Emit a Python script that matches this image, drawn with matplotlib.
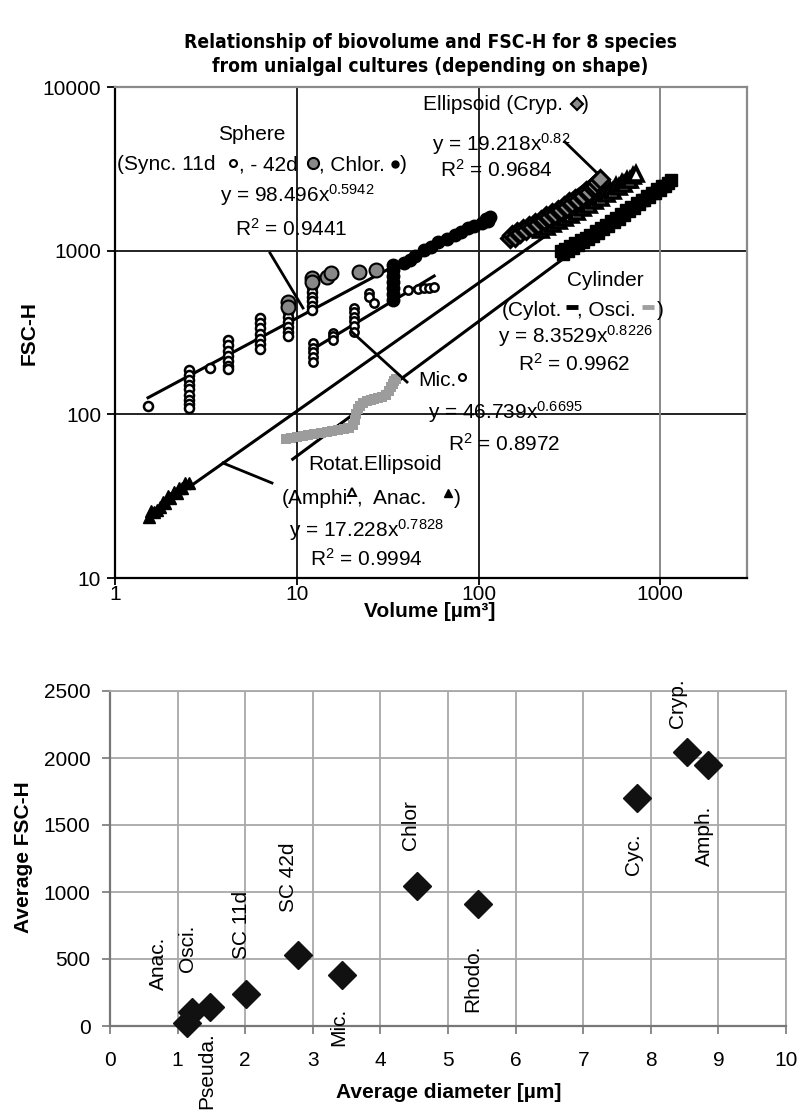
import matplotlib
matplotlib.use("Agg")
import matplotlib.pyplot as plt
from matplotlib import font_manager as fm
from matplotlib.font_manager import FontProperties
from matplotlib.lines import Line2D
from matplotlib.ticker import FixedLocator, FixedFormatter
import numpy as np

W, H = 799, 1110

# ---------------- upper panel: biovolume vs FSC-H ----------------
sync11d_vol = [1.52, 2.56, 2.56, 2.56, 2.56, 2.56, 2.56, 2.56, 2.56, 2.56, 3.35,
               4.21, 4.21, 4.21, 4.21, 4.21, 4.21, 4.21,
               6.25, 6.25, 6.25, 6.25, 6.25, 6.25, 6.25,
               8.9, 8.9, 8.9, 8.9, 8.9, 8.9,
               12.1, 12.1, 12.1, 12.1, 12.1, 12.1]
sync11d_fsc = [112, 187, 175, 163, 152, 142, 132, 123, 116, 110, 192,
               285, 265, 245, 228, 212, 198, 188,
               387, 360, 335, 310, 290, 270, 250,
               420, 392, 366, 342, 320, 300,
               600, 560, 522, 490, 460, 435]

sync42d_vol = [8.9, 8.9, 12.1, 12.1, 14.6, 15.4, 22.0, 27.3]
sync42d_fsc = [486, 455, 680, 640, 690, 730, 740, 760]

chlor_vol = [34, 34, 34, 34, 34, 34, 34, 39, 42, 45, 50, 55, 60, 67, 74, 80, 88,
             95, 104, 110, 115, 113]
chlor_fsc = [820, 760, 700, 645, 590, 540, 500, 840, 880, 930, 1010, 1060, 1130,
             1180, 1250, 1300, 1380, 1420, 1480, 1560, 1600, 1520]

mic_vol = [12.3, 12.3, 12.3, 12.3, 12.3, 15.8, 15.8, 15.8,
           20.6, 20.6, 20.6, 20.6, 20.6, 20.6, 25, 25, 26.6, 41, 46.5, 50, 53.6, 57]
mic_fsc = [273, 255, 240, 224, 209, 314, 300, 285,
           445, 420, 395, 370, 345, 320, 551, 520, 479, 574, 580, 590, 595, 600]

cryp_vol = [149, 152, 158, 163, 170, 176, 183, 190, 197, 204, 212, 220, 228, 236,
            245, 254, 263, 273, 283, 294, 305, 316, 328, 340, 352, 365, 378, 392,
            406, 420, 435, 450, 466]
cryp_fsc = [1189, 1250, 1220, 1300, 1290, 1350, 1330, 1420, 1400, 1480, 1460, 1550,
            1530, 1620, 1600, 1700, 1680, 1780, 1760, 1880, 1850, 1970, 1950, 2060,
            2040, 2170, 2150, 2300, 2280, 2440, 2500, 2620, 2760]

amphi_vol = [215, 222, 230, 238, 247, 256, 266, 276, 287, 298, 310, 322, 335, 348,
             362, 376, 391, 406, 422, 438, 455, 472, 490, 509, 528, 548, 569, 590,
             612, 635, 659, 684, 710, 731]
amphi_fsc = [1380, 1330, 1420, 1390, 1480, 1450, 1540, 1510, 1610, 1580, 1680, 1650,
             1760, 1730, 1850, 1820, 1940, 1910, 2030, 2010, 2130, 2110, 2240, 2220,
             2350, 2330, 2470, 2450, 2590, 2570, 2720, 2700, 2860, 2960]

anac_vol = [1.53, 1.58, 1.63, 1.70, 1.77, 1.83, 1.89, 1.95, 2.01, 2.10, 2.19, 2.26,
            2.33, 2.44, 2.54]
anac_fsc = [23.7, 25.5, 25.4, 26.0, 27.3, 29.0, 28.6, 31.5, 30.7, 33.5, 32.9, 35.5,
            35.3, 38.0, 37.9]

osci_vol = [8.7, 9.3, 10.0, 10.8, 11.6, 12.5, 13.6, 14.6, 15.7, 16.9, 18.2, 19.5,
            20.3, 20.8, 21.2, 21.6, 22.4, 23.2, 24.3, 25.5, 26.7, 28.0, 29.5, 31.0,
            32.0, 33.0, 33.7, 34.4, 35.2]
osci_fsc = [71, 72, 73, 74, 75, 76, 77, 78, 79, 80, 81, 83, 86, 92, 100, 108, 113,
            118, 120, 122, 124, 126, 128, 131, 138, 146, 153, 160, 164]

cylot_vol = [285, 292, 300, 310, 320, 330, 341, 352, 364, 376, 388, 400, 413, 427,
             441, 455, 470, 486, 502, 518, 535, 553, 571, 590, 610, 630, 651, 672,
             694, 717, 741, 765, 790, 816, 843, 871, 900, 930, 960, 992, 1025, 1060,
             1100, 1141]
cylot_fsc = [1000, 960, 1030, 1000, 1070, 1040, 1110, 1080, 1160, 1130, 1200, 1180,
             1250, 1230, 1310, 1290, 1370, 1350, 1440, 1420, 1510, 1490, 1590, 1570,
             1670, 1650, 1760, 1740, 1850, 1830, 1950, 1930, 2050, 2030, 2150, 2130,
             2260, 2240, 2370, 2350, 2480, 2470, 2590, 2698]

# power-law fits y = a * x^b and the volume range each one spans
fit_sphere = (98.496, 0.5942, 1.52, 115)
fit_ellipsoid = (19.218, 0.82, 149, 466)
fit_rotat = (17.228, 0.7828, 1.52, 731)
fit_cylinder = (8.3529, 0.8226, 9.5, 1141)
fit_mic = (46.739, 0.6695, 12.3, 57)

top_xticks = [1, 10, 100, 1000]
top_yticks = [10, 100, 1000, 10000]

# ---------------- lower panel: mean diameter vs mean FSC-H ----------------
species = ["Anac.", "Osci.", "Pseuda.", "SC 11d", "SC 42d", "Mic.", "Chlor",
           "Rhodo.", "Cyc.", "Cryp.", "Amph."]
diameter = [1.14, 1.22, 1.48, 2.01, 2.78, 3.43, 4.54, 5.45, 7.80, 8.53, 8.85]
avg_fsc = [25, 104, 140, 240, 530, 380, 1045, 910, 1700, 2045, 1950]
label_x = [0.71, 1.15, 1.43, 1.95, 2.64, 3.38, 4.45, 5.37, 7.74, 8.39, 8.79]
label_y = [470, 582, -330, 754, 1112, -10, 1500, 358, 1284, 2410, 1418]

# ---------------- fonts ----------------
names = {f.name for f in fm.fontManager.ttflist}
BASE = ["Liberation Sans", "DejaVu Sans"]
title_kw = dict(family=BASE, fontweight="bold", fontsize=14)
if "Liberation Sans Narrow" in names:
    title_kw = dict(family=["Liberation Sans Narrow"] + BASE, fontweight="bold",
                    fontsize=16)
else:
    try:
        cond = fm.findfont(FontProperties(family="DejaVu Sans", weight="bold",
                                          stretch="condensed"),
                           fallback_to_default=False)
        if "Condensed" in cond:
            title_kw = dict(fontproperties=FontProperties(fname=cond, size=13.8))
    except Exception:
        pass

plt.rcParams["font.family"] = BASE
plt.rcParams["mathtext.default"] = "regular"
FS = 15

fig = plt.figure(figsize=(W / 100, H / 100), dpi=100)


def fpos(x, y):
    return x / W, 1 - y / H


def ftext(x, y, s, ha="center", **kw):
    if "fontproperties" not in kw:
        kw.setdefault("fontsize", FS)
    fig.text(*fpos(x, y), s, ha=ha, va="center", **kw)


def fmark(x, y, **kw):
    fx, fy = fpos(x, y)
    fig.add_artist(Line2D([fx], [fy], transform=fig.transFigure, linestyle="none", **kw))


def fline(x0, y0, x1, y1, **kw):
    a, b = fpos(x0, y0)
    c, d = fpos(x1, y1)
    fig.add_artist(Line2D([a, c], [b, d], transform=fig.transFigure, color="black",
                          lw=2, **kw))


# title
ftext(430, 42, "Relationship of biovolume and FSC-H for 8 species", **title_kw)
ftext(430, 66, "from unialgal cultures (depending on shape)", **title_kw)

# ---------- top axes ----------
ax = fig.add_axes([115 / W, 1 - 578 / H, (747 - 115) / W, (578 - 87) / H])
ax.set_xscale("log")
ax.set_yscale("log")
ax.set_xlim(1, 3000)
ax.set_ylim(10, 10000)
ax.xaxis.set_major_locator(FixedLocator(top_xticks))
ax.xaxis.set_major_formatter(FixedFormatter([str(v) for v in top_xticks]))
ax.yaxis.set_major_locator(FixedLocator(top_yticks))
ax.yaxis.set_major_formatter(FixedFormatter([str(v) for v in top_yticks]))
ax.xaxis.set_minor_locator(FixedLocator([]))
ax.yaxis.set_minor_locator(FixedLocator([]))
ax.tick_params(labelsize=FS, width=1.3, direction="out")
ax.tick_params(axis="x", length=5, pad=0)
ax.tick_params(axis="y", length=6, pad=4)
for v in [100, 1000]:
    ax.axhline(v, color="#222222", lw=1.4, zorder=1)
for v in [10, 100]:
    ax.axvline(v, color="#222222", lw=1.4, zorder=1)
ax.axvline(1000, color="#888888", lw=1.4, zorder=1)
ax.spines["left"].set_linewidth(1.6)
ax.spines["bottom"].set_linewidth(1.6)
for s in ["top", "right"]:
    ax.spines[s].set_color("#8a8a8a")
    ax.spines[s].set_linewidth(1.6)

for a, b, lo, hi in [fit_sphere, fit_ellipsoid, fit_rotat, fit_cylinder, fit_mic]:
    xs = np.geomspace(lo, hi, 60)
    ax.plot(xs, a * xs ** b, color="black", lw=2.2, zorder=2)

ax.plot(osci_vol, osci_fsc, "s", ms=7, color="#9c9c9c", mew=0, zorder=3)
ax.plot(cylot_vol, cylot_fsc, "s", ms=8, color="black", zorder=3)
ax.plot(anac_vol, anac_fsc, "^", ms=9, color="black", zorder=3)
ax.plot(amphi_vol, amphi_fsc, "^", ms=10, mfc="white", mec="black", mew=2.6, zorder=3)
ax.plot(cryp_vol, cryp_fsc, "D", ms=9, mfc="#8c8c8c", mec="black", mew=2.2, zorder=3)
ax.plot(sync11d_vol, sync11d_fsc, "o", ms=6.5, mfc="white", mec="black", mew=1.8, zorder=3)
ax.plot(mic_vol, mic_fsc, "o", ms=6, mfc="white", mec="black", mew=1.8, zorder=3)
ax.plot(chlor_vol, chlor_fsc, "o", ms=9, color="black", zorder=3)
ax.plot(sync42d_vol, sync42d_fsc, "o", ms=10, mfc="#888888", mec="black", mew=1.5, zorder=4)

ax.set_xlabel("Volume [µm³]", fontsize=FS, fontweight="bold")
ax.set_ylabel("FSC-H", fontsize=FS, fontweight="bold")
ax.xaxis.set_label_coords((430 - 115) / 632, -(602 - 578) / 491)
ax.yaxis.set_label_coords(-(115 - 39) / 632, (578 - 333) / 491)

# annotations
ftext(252, 135, "Sphere")
ftext(117, 165, "(Sync. 11d", ha="left")
fmark(233, 163, marker="o", ms=5, mfc="white", mec="black", mew=1.5)
ftext(239, 165, ", - 42d", ha="left")
fmark(313, 163, marker="o", ms=8, mfc="#888888", mec="black", mew=1.5)
ftext(319, 165, ", Chlor.", ha="left")
fmark(395, 164, marker="o", ms=5, color="black")
ftext(400, 165, ")", ha="left")
ftext(297, 195, "y = 98.496x$^{0.5942}$")
ftext(291, 229, "R$^{2}$ = 0.9441")
fline(270, 253, 303, 308)

ftext(423, 105, "Ellipsoid (Cryp.", ha="left")
fmark(577, 104, marker="D", ms=6, mfc="#8c8c8c", mec="black", mew=1.5)
ftext(582, 105, ")", ha="left")
ftext(501, 144, "y = 19.218x$^{0.82}$")
ftext(496, 170, "R$^{2}$ = 0.9684")
fline(565, 142, 597, 173)

ftext(605, 280, "Cylinder")
ftext(502, 310, "(Cylot.", ha="left")
fmark(572, 307, marker="_", ms=8, mew=3.5, color="black")
ftext(577, 310, ", Osci.", ha="left")
fmark(648, 307, marker="_", ms=9, mew=3.5, color="#a0a0a0")
ftext(657, 310, ")", ha="left")
ftext(575, 336, "y = 8.3529x$^{0.8226}$")
ftext(574, 364, "R$^{2}$ = 0.9962")

ftext(418, 380, "Mic.", ha="left")
fmark(462, 377, marker="o", ms=5, mfc="white", mec="black", mew=1.5)
ftext(505, 412, "y = 46.739x$^{0.6695}$")
ftext(504, 444, "R$^{2}$ = 0.8972")
fline(352, 332, 407, 382)

ftext(375, 465, "Rotat.Ellipsoid")
ftext(282, 498, "(Amphi.", ha="left")
fmark(352, 492, marker="^", ms=6, mfc="white", mec="black", mew=1.4)
ftext(357, 498, ",  Anac.", ha="left")
fmark(448, 493, marker="^", ms=6, color="black")
ftext(454, 498, ")", ha="left")
ftext(366, 530, "y = 17.228x$^{0.7828}$")
ftext(366, 559, "R$^{2}$ = 0.9994")
fline(223, 463, 272, 483)

# ---------- bottom axes ----------
bx = fig.add_axes([110 / W, 1 - 1026 / H, (786 - 110) / W, (1026 - 691) / H])
bx.set_xlim(0, 10)
bx.set_ylim(0, 2500)
bx.set_xticks(range(0, 11))
bx.set_yticks(range(0, 2501, 500))
bx.grid(True, color="#a8a8a8", lw=1.3)
bx.set_axisbelow(True)
bx.tick_params(labelsize=FS, length=6, width=1.2, color="#777777", direction="out")
bx.tick_params(axis="x", pad=12)
bx.tick_params(axis="y", pad=8)
for s in ["left", "bottom"]:
    bx.spines[s].set_color("#777777")
    bx.spines[s].set_linewidth(1.6)
for s in ["top", "right"]:
    bx.spines[s].set_color("#a8a8a8")
    bx.spines[s].set_linewidth(1.3)
bx.plot(diameter, avg_fsc, "D", ms=14, color="#111111", zorder=3, clip_on=False)
for name, lx, ly in zip(species, label_x, label_y):
    bx.text(lx, ly, name, rotation=90, ha="center", va="center", fontsize=FS,
            clip_on=False)
bx.set_xlabel("Average diameter [µm]", fontsize=FS, fontweight="bold")
bx.set_ylabel("Average FSC-H", fontsize=FS, fontweight="bold")
bx.xaxis.set_label_coords((449 - 110) / 676, -(1083 - 1026) / 335)
bx.yaxis.set_label_coords(-(110 - 33) / 676, (1026 - 857) / 335)

fig.savefig("out.png", dpi=100)
